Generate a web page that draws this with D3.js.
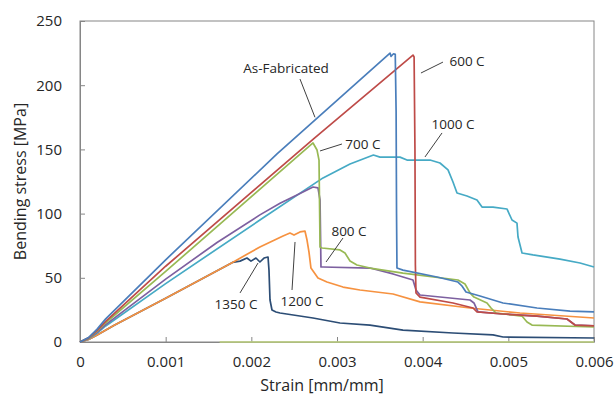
<!DOCTYPE html>
<html>
<head>
<meta charset="utf-8">
<script src="https://cdn.jsdelivr.net/npm/d3@7"></script>
<style>
  body { margin: 0; background: #fff; }
  svg text { font-family: "Open Sans", sans-serif; fill: #262626; }
</style>
</head>
<body>
<div id="chart-container"></div>
<script>
// data: [strain, stress MPa]
const asFabricated = [[0,0],[0.0001,3.5],[0.0002,10],[0.0003,18],[0.001,64],[0.0023,146.5],[0.003619,225],
  [0.00363,222.5],[0.00366,224.5],[0.00368,224],[0.00369,180],[0.003695,100],[0.0037,57.6],[0.00377,56],[0.004167,50.6],
  [0.004412,46.7],[0.004459,43.6],[0.004506,38.9],[0.004669,35.8],[0.004938,30.4],[0.005335,26.5],[0.00572,24.1],[0.006,23.4]];
const c600 = [[0,0],[0.0001,3.2],[0.0002,9],[0.0003,16],[0.001,59],[0.00274,159],[0.003887,223.5],[0.0039,222],
  [0.00391,150],[0.003915,60],[0.003922,38.2],[0.003969,35],[0.004354,30.4],[0.004588,26.5],[0.004634,23.4],
  [0.004938,21.8],[0.005335,20.2],[0.005685,17.9],[0.005778,13.2],[0.006,12.5]];
const c700 = [[0,0],[0.0001,3],[0.0002,8.5],[0.0003,15],[0.001,55],[0.00272,155],[0.002767,149.5],[0.00279,141.7],
  [0.002802,74],[0.002825,73.2],[0.003035,71.7],[0.003093,69.3],[0.003152,63.1],[0.003233,60],[0.003385,57.6],
  [0.00377,53.7],[0.004412,48.3],[0.004494,45.2],[0.004553,38.2],[0.004599,35],[0.004751,30.4],[0.004798,26.5],
  [0.004856,22.6],[0.005159,20.2],[0.005218,15.6],[0.005276,13.2],[0.006,11.7]];
const c800 = [[0,0],[0.0001,2.8],[0.0002,7.5],[0.0003,13.5],[0.001,49],[0.0016,77.5],[0.0021,99],[0.002335,108],
  [0.002568,115.6],[0.00272,120.7],[0.002778,120],[0.002802,110.6],[0.002813,58.4],[0.002837,58.4],[0.003385,57.6],
  [0.003654,53],[0.00377,50.6],[0.003887,48.3],[0.003922,40.5],[0.003969,36.6],[0.004553,32.7],[0.004599,30.4],
  [0.004646,23.4],[0.004938,21.8],[0.005335,20.2],[0.005685,17.9],[0.005778,13.2],[0.006,12.5]];
const c1000 = [[0,0],[0.0001,2.5],[0.0002,7],[0.0003,12.5],[0.001,45.5],[0.0021,95],[0.002837,127.8],[0.003152,138.6],
  [0.003425,145.6],[0.003502,144],[0.003654,144],[0.003735,144],[0.003817,141.7],[0.004086,141.7],[0.004202,139.4],
  [0.004296,134],[0.004354,124.6],[0.004401,116],[0.004517,113.7],[0.004634,110.6],[0.004693,105.1],[0.004821,105.1],
  [0.004984,103.6],[0.005043,95],[0.005101,92.6],[0.005113,81.8],[0.00516,69.3],[0.005288,67.8],[0.005603,64.6],
  [0.005837,61.5],[0.006,58.4]];
const c1200 = [[0,0],[0.0001,2],[0.0002,5.5],[0.0004,13],[0.001,34],[0.00178,62],[0.0021,74],[0.00237,82.6],
  [0.002451,84.9],[0.002498,83.3],[0.002568,85.7],[0.002626,86.4],[0.00265,79.4],[0.002673,70],[0.002696,57.6],
  [0.002778,49.8],[0.002883,46.7],[0.00307,42.8],[0.003268,40.5],[0.003654,37.4],[0.003969,31.2],[0.004553,26.5],
  [0.005136,22.6],[0.006,18.7]];
const c1350 = [[0,0],[0.0001,2],[0.0002,5.5],[0.0004,13],[0.001,34],[0.00178,62],[0.001868,63],[0.001949,65.4],
  [0.001996,63],[0.002054,65.4],[0.0021,62.3],[0.002148,65.4],[0.002195,66.2],[0.002206,56],[0.002218,32.7],
  [0.002241,24.9],[0.002288,23.4],[0.002335,22.6],[0.00272,18.7],[0.003035,14.8],[0.003385,13.2],[0.00377,9.3],
  [0.004354,7],[0.004821,5.5],[0.004938,3.9],[0.006,3.1]];
const zeroLine = [[0.00163,0],[0.006,0]];

const xTicks = [0, 0.001, 0.002, 0.003, 0.004, 0.005, 0.006];
const yTicks = [0, 50, 100, 150, 200, 250];

// labels: text, text position, leader start, leader end
const labels = [
  ["As-Fabricated", [0.002405, 213.4], [0.002568, 204.8], [0.002743, 175]],
  ["600 C", [0.004518, 218.8], [0.004237, 218], [0.00398, 209.5]],
  ["700 C", [0.003303, 154.2], [0.003058, 154.2], [0.002802, 148.8]],
  ["1000 C", [0.004354, 169.8], [0.004226, 162.8], [0.004027, 144.1]],
  ["800 C", [0.00314, 86.4], [0.00307, 81], [0.002872, 62.3]],
  ["1200 C", [0.002591, 31.9], [0.00251, 77.9], [0.002475, 40.5]],
  ["1350 C", [0.001821, 29.6], [0.001868, 38.2], [0.002078, 61.5]]
];

const series = [
  { data: zeroLine, color: "#bcd17c" },
  { data: c1350, color: "#2c4d75" },
  { data: c1200, color: "#f69240" },
  { data: c1000, color: "#46aac5" },
  { data: c800, color: "#7d60a0" },
  { data: c700, color: "#98b954" },
  { data: c600, color: "#be4b48" },
  { data: asFabricated, color: "#4a7ebb" }
];

const width = 616, height = 396;
const margin = { left: 80, right: 22, top: 21, bottom: 54 };

const x = d3.scaleLinear().domain([0, 0.006]).range([margin.left, width - margin.right]);
const y = d3.scaleLinear().domain([0, 250]).range([height - margin.bottom, margin.top]);

const svg = d3.select("#chart-container").append("svg")
  .attr("width", width)
  .attr("height", height);

// plot frame
svg.append("rect")
  .attr("x", x(0)).attr("y", y(250))
  .attr("width", x(0.006) - x(0)).attr("height", y(0) - y(250))
  .attr("fill", "none").attr("stroke", "#868686").attr("stroke-width", 1);

// axes
const xAxis = svg.append("g")
  .attr("transform", `translate(0, ${y(0)})`)
  .call(d3.axisBottom(x).tickValues(xTicks).tickSizeInner(-5).tickSizeOuter(0).tickPadding(14)
    .tickFormat(d => d === 0 ? "0" : d3.format(".3f")(d)));
const yAxis = svg.append("g")
  .attr("transform", `translate(${x(0)}, 0)`)
  .call(d3.axisLeft(y).tickValues(yTicks).tickSizeInner(-5).tickSizeOuter(0).tickPadding(18));

[xAxis, yAxis].forEach(a => {
  a.select(".domain").attr("stroke", "#868686");
  a.selectAll(".tick line").attr("stroke", "#868686");
  a.selectAll(".tick text").style("font-size", "15px").attr("fill", "#262626");
});
xAxis.selectAll(".tick text").attr("dy", "0.71em");

// lines
const line = d3.line().x(d => x(d[0])).y(d => y(d[1]));
svg.selectAll("path.series")
  .data(series)
  .enter()
  .append("path")
  .attr("class", "series")
  .attr("d", d => line(d.data))
  .attr("fill", "none")
  .attr("stroke", d => d.color)
  .attr("stroke-width", 1.7)
  .attr("stroke-linejoin", "round");

// annotations
const ann = svg.selectAll("g.ann").data(labels).enter().append("g").attr("class", "ann");
ann.append("line")
  .attr("x1", d => x(d[2][0])).attr("y1", d => y(d[2][1]))
  .attr("x2", d => x(d[3][0])).attr("y2", d => y(d[3][1]))
  .attr("stroke", "#404040").attr("stroke-width", 1);
ann.append("text")
  .attr("x", d => x(d[1][0])).attr("y", d => y(d[1][1]))
  .attr("text-anchor", "middle")
  .attr("dominant-baseline", "central")
  .style("font-size", "13.5px")
  .text(d => d[0]);

// axis titles
svg.append("text")
  .attr("x", 322).attr("y", 385)
  .attr("text-anchor", "middle").attr("dominant-baseline", "central")
  .style("font-size", "16px")
  .text("Strain [mm/mm]");
svg.append("text")
  .attr("transform", `translate(20, ${(y(0) + y(250)) / 2}) rotate(-90)`)
  .attr("text-anchor", "middle").attr("dominant-baseline", "central")
  .style("font-size", "16px")
  .text("Bending stress [MPa]");
</script>
</body>
</html>
